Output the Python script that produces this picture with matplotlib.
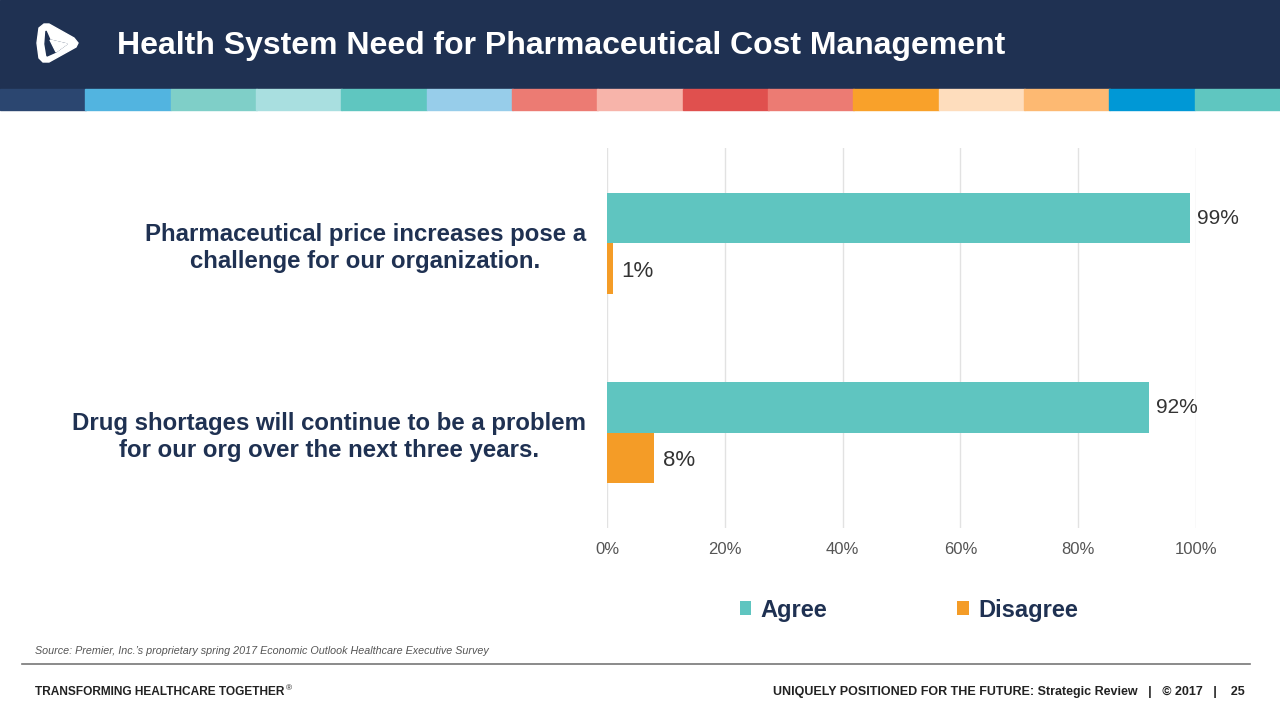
import matplotlib
matplotlib.use("Agg")
import matplotlib.pyplot as plt
from matplotlib.patches import Rectangle, Polygon

plt.rcParams['font.family'] = ['Liberation Sans', 'DejaVu Sans']

categories = ["Pharmaceutical price increases pose a\nchallenge for our organization.",
              "Drug shortages will continue to be a problem\nfor our org over the next three years."]
agree = [99, 92]
disagree = [1, 8]
series_names = ["Agree", "Disagree"]
xticks = [0, 20, 40, 60, 80, 100]
xtick_labels = ["0%", "20%", "40%", "60%", "80%", "100%"]
stripe_colors = ["#2B4670", "#52B4E0", "#7FCFC8", "#A9DFE0", "#5FC6C0", "#97CDEA",
                 "#EC7B73", "#F7B4AA", "#E0504E", "#EC7B73", "#F9A12A", "#FEDDBD",
                 "#FDB972", "#0098D6", "#5FC6C0"]

NAVY = "#1F3152"
TEAL = "#5FC5C0"
ORANGE = "#F49C27"
W, H = 1280, 720

fig = plt.figure(figsize=(12.8, 7.2), dpi=100)
fig.patch.set_facecolor("white")

# decoration layer in pixel coordinates
deco = fig.add_axes([0, 0, 1, 1])
deco.set_xlim(0, W)
deco.set_ylim(H, 0)
deco.axis("off")
deco.add_patch(Rectangle((0, 0), W, 89, color=NAVY, zorder=1))
sw = W / len(stripe_colors)
for i, c in enumerate(stripe_colors):
    deco.add_patch(Rectangle((i * sw, 89), sw + 0.5, 21, color=c, zorder=1))
# logo
deco.add_patch(Polygon([(39, 28), (44, 24), (49, 24), (74, 38), (78, 43), (76, 47),
                        (49, 62), (43, 62), (39, 58), (37, 43)],
                       closed=True, color="white", zorder=2))
deco.add_patch(Polygon([(46, 31), (50, 40), (67, 44), (56, 52), (47, 56), (45, 44)],
                       closed=True, color=NAVY, zorder=3))
deco.add_patch(Polygon([(50, 40), (52, 44), (56, 52), (67, 44)],
                       closed=True, color="white", zorder=4))
deco.text(117, 46, "Health System Need for Pharmaceutical Cost Management", color="white",
          fontsize=23, fontweight="bold", va="center", ha="left", zorder=3)
deco.text(35, 651, "Source: Premier, Inc.\u2019s proprietary spring 2017 Economic Outlook Healthcare Executive Survey",
          fontsize=7.75, style="italic", color="#555555", va="center", ha="left")
deco.plot([22, 1250], [664, 664], color="#777777", lw=1.2)
deco.text(35, 692, "TRANSFORMING HEALTHCARE TOGETHER", fontsize=8.6, fontweight="bold",
          color="#222222", va="center", ha="left")
deco.text(285.5, 689, "\u00ae", fontsize=6, color="#222222", va="center", ha="left")
deco.text(1245, 692, "UNIQUELY POSITIONED FOR THE FUTURE: Strategic Review   |   \u00a9 2017   |    25",
          fontsize=9, fontweight="bold", color="#222222", va="center", ha="right")

# chart
x0, x1 = 607 / W, 1196 / W
ytop, ybot = 148 / H, 528 / H
ax = fig.add_axes([x0, 1 - ybot, x1 - x0, ybot - ytop])
ax.set_xlim(0, 100)
ax.set_ylim(1.505, -0.505)
bh = 0.265
pos = list(range(len(categories)))
ax.barh([p - bh / 2 for p in pos], agree, height=bh, color=TEAL, label=series_names[0], zorder=2)
ax.barh([p + bh / 2 for p in pos], disagree, height=bh, color=ORANGE, label=series_names[1], zorder=2)
for p, a, d in zip(pos, agree, disagree):
    ax.text(a + 1.2, p - bh / 2, f"{a}%", fontsize=15, color="#333333", va="center", ha="left")
    ax.text(d + 1.5, p + bh / 2 + 0.015, f"{d}%", fontsize=16, color="#333333", va="center", ha="left")
ax.set_xticks(xticks)
ax.set_xticklabels(xtick_labels, fontsize=12, color="#555555")
ax.set_yticks(pos)
ax.set_yticklabels(categories, fontsize=17.3, fontweight="bold", color=NAVY, ha="right")
ax.tick_params(axis="y", length=0, pad=15)
ax.tick_params(axis="x", length=0, pad=10)
ax.grid(axis="x", color="#E2E2E2", lw=1, zorder=0)
for s in ax.spines.values():
    s.set_visible(False)
for lbl in ax.get_yticklabels():
    lbl.set_multialignment("center")
    lbl.set_linespacing(1.2)

leg = fig.legend(handles=ax.get_legend_handles_labels()[0], labels=series_names,
                 loc="center", bbox_to_anchor=(909 / W, 1 - 610 / H), ncol=2, frameon=False,
                 fontsize=17, handlelength=0.5, handleheight=0.5, handletextpad=0.4,
                 columnspacing=5.5)
for t in leg.get_texts():
    t.set_color(NAVY)
    t.set_fontweight("bold")

fig.savefig("out.png", dpi=100, facecolor="white")
